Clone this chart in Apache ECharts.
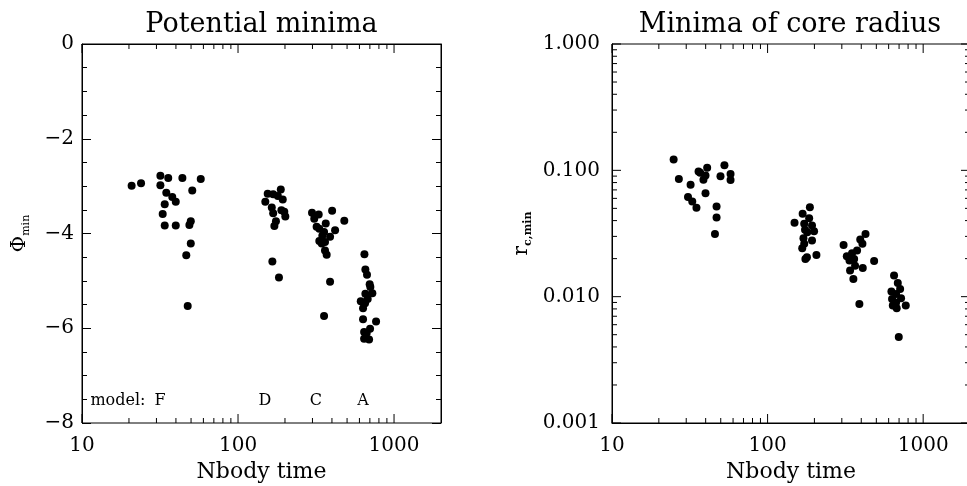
<!DOCTYPE html>
<html><head><meta charset="utf-8">
<script src="https://cdn.jsdelivr.net/npm/echarts@6/dist/echarts.min.js"></script>
<style>html,body{margin:0;padding:0;background:#fff}#c{width:967px;height:486px}</style>
</head><body><div id="c"></div>
<script>
// ---- data: left panel (potential minima) ----
const phiTime = [20.8,23.9,31.8,35.7,44.0,57.7,31.8,50.9,34.7,37.9,39.9,33.9,32.9,33.9,39.9,49.8,48.8,49.8,46.6,47.6,
  155,168,188,180,193.5,149.6,164.6,168,189.7,198,201,175,171,166,183,
  298,329,308,401,480,365,319,332,419,356,347,389,332,361,344,361,370,389,356,
  646,655,671,698,705,655,726,678,612,652,633,633,767,702,643,668,643,692];
const phiMin = [-2.99,-2.94,-2.78,-2.83,-2.83,-2.85,-2.98,-3.09,-3.14,-3.23,-3.33,-3.38,-3.59,-3.83,-3.83,-3.74,-3.82,-4.21,-4.46,-5.53,
  -3.16,-3.17,-3.07,-3.21,-3.28,-3.33,-3.45,-3.57,-3.51,-3.54,-3.64,-3.74,-3.84,-4.59,-4.93,
  -3.56,-3.60,-3.69,-3.52,-3.73,-3.79,-3.86,-3.90,-3.93,-3.97,-4.05,-4.07,-4.16,-4.18,-4.21,-4.36,-4.45,-5.02,-5.74,
  -4.44,-4.76,-4.87,-5.07,-5.13,-5.27,-5.26,-5.38,-5.43,-5.47,-5.58,-5.81,-5.86,-6.01,-6.08,-6.10,-6.22,-6.24];
// ---- data: right panel (core radius minima) ----
const rcTime = [24.9,26.9,32.0,36.0,36.9,40.9,39.9,38.7,52.8,49.8,57.8,57.8,39.9,30.8,32.8,34.9,47.0,47.0,45.9,
  187,168,149,185,172,193,174,199,180,170,193,172,167,179,175,206,
  426,394,407,308,376,349,323,360,336,484,365,409,339,356,389,
  650,687,711,625,670,721,631,670,638,773,676,697];
const rcMin = [0.122,0.0853,0.0769,0.0977,0.0959,0.105,0.0912,0.0844,0.1096,0.0896,0.0935,0.0838,0.066,0.0614,0.0567,0.0506,0.0518,0.0424,0.0314,
  0.0511,0.0453,0.0385,0.0418,0.0378,0.0366,0.0338,0.033,0.0324,0.029,0.0278,0.0262,0.0242,0.0205,0.0199,0.0214,
  0.0314,0.0283,0.0262,0.0257,0.0232,0.0221,0.0209,0.0199,0.0193,0.0192,0.0176,0.0169,0.0161,0.0138,0.00875,
  0.0147,0.0128,0.0115,0.0110,0.0105,0.0097,0.0096,0.0090,0.0085,0.0085,0.0081,0.0048];
// ---- model annotation ----
const modelNames = ['model:','F','D','C','A'];
const modelTime = [17,31.6,149,316,632];
const modelPhi = [-7.53,-7.53,-7.53,-7.53,-7.53];
// ---- ticks ----
const xMajorTicks = [10,100,1000];
const xMinorTicks = [20,30,40,50,60,70,80,90,200,300,400,500,600,700,800,900];
const xTickLabels = [10,100,1000];
const phiTickLabels = [-8,-6,-4,-2,0];
const rMajorTicks = [0.001,0.01,0.1,1];
const rMinorTicks = [0.002,0.003,0.004,0.005,0.006,0.007,0.008,0.009,0.02,0.03,0.04,0.05,0.06,0.07,0.08,0.09,0.2,0.3,0.4,0.5,0.6,0.7,0.8,0.9];

const X_MIN = 10, X_MAX = 2000, PHI_LO = -8, PHI_HI = 0, R_LO = 0.001, R_HI = 1;
const FONT = 'DejaVu Serif';
const MAJ = 9, MIN = 5;

function xTickSeries(xi, yi, yLo, yHi) {
  const data = xMajorTicks.map(v => [v, yLo, 1]).concat(xMinorTicks.map(v => [v, yLo, 0]));
  return {
    type: 'custom', xAxisIndex: xi, yAxisIndex: yi, silent: true, clip: false,
    encode: {x: 0, y: 1}, data,
    renderItem: (params, api) => {
      const v = api.value(0), len = api.value(2) ? MAJ : MIN;
      const b = api.coord([v, yLo]), t = api.coord([v, yHi]);
      return {type: 'group', children: [
        {type: 'line', shape: {x1: b[0], y1: b[1], x2: b[0], y2: b[1] - len}, style: {stroke: '#000', lineWidth: 1}},
        {type: 'line', shape: {x1: t[0], y1: t[1], x2: t[0], y2: t[1] + len}, style: {stroke: '#000', lineWidth: 1}}
      ]};
    }
  };
}
function rTickSeries(xi, yi) {
  const data = rMajorTicks.map(v => [X_MIN, v, 1]).concat(rMinorTicks.map(v => [X_MIN, v, 0]));
  return {
    type: 'custom', xAxisIndex: xi, yAxisIndex: yi, silent: true, clip: false,
    encode: {x: 0, y: 1}, data,
    renderItem: (params, api) => {
      const v = api.value(1), len = api.value(2) ? MAJ : MIN;
      const l = api.coord([X_MIN, v]), r = api.coord([X_MAX, v]);
      return {type: 'group', children: [
        {type: 'line', shape: {x1: l[0], y1: l[1], x2: l[0] + len, y2: l[1]}, style: {stroke: '#000', lineWidth: 1}},
        {type: 'line', shape: {x1: r[0], y1: r[1], x2: r[0] - len, y2: r[1]}, style: {stroke: '#000', lineWidth: 1}}
      ]};
    }
  };
}

const axisLine = {show: true, lineStyle: {color: '#000', width: 1}};
const xLabel = {
  show: true, color: '#000', fontFamily: FONT, fontSize: 20, margin: 13,
  formatter: v => xTickLabels.includes(Math.round(v)) ? String(Math.round(v)) : ''
};
function xAxis(gi) {
  return {
    type: 'log', logBase: 10, gridIndex: gi, min: X_MIN, max: X_MAX,
    axisLine, axisTick: {show: false}, splitLine: {show: false}, axisLabel: xLabel,
    name: 'Nbody time', nameLocation: 'middle', nameGap: 36,
    nameTextStyle: {color: '#000', fontFamily: FONT, fontSize: 22}
  };
}
function phiAxis(pos, showLabel) {
  return {
    type: 'value', gridIndex: 0, position: pos, min: PHI_LO, max: PHI_HI, interval: 2,
    axisLine, splitLine: {show: false},
    axisTick: {show: true, inside: true, length: MAJ, lineStyle: {color: '#000'}},
    minorTick: {show: true, splitNumber: 4, length: MIN, lineStyle: {color: '#000'}},
    minorSplitLine: {show: false},
    axisLabel: {show: showLabel, color: '#000', fontFamily: FONT, fontSize: 20, margin: 8,
      formatter: v => phiTickLabels.includes(v) ? (v < 0 ? '\u2212' + Math.abs(v) : String(v)) : ''},
    name: showLabel ? '{a|\u03A6}{b|min}' : '', nameLocation: 'middle', nameRotate: 90, nameGap: 50,
    nameTextStyle: {color: '#000', rich: {
      a: {fontFamily: FONT, fontSize: 20, color: '#000', lineHeight: 24, verticalAlign: 'middle'},
      b: {fontFamily: FONT, fontSize: 11, color: '#000', verticalAlign: 'bottom', lineHeight: 24}
    }}
  };
}

const option = {
  animation: false,
  backgroundColor: '#fff',
  grid: [
    {left: 82, top: 44, width: 359, height: 379, show: true, borderColor: '#000', borderWidth: 1, containLabel: false, outerBoundsMode: 'none'},
    {left: 612, top: 44, width: 358, height: 379, show: true, borderColor: '#000', borderWidth: 1, containLabel: false, outerBoundsMode: 'none'}
  ],
  xAxis: [xAxis(0), xAxis(1)],
  yAxis: [
    phiAxis('left', true),
    phiAxis('right', false),
    {
      type: 'log', logBase: 10, gridIndex: 1, min: R_LO, max: R_HI,
      axisLine, axisTick: {show: false}, splitLine: {show: false},
      axisLabel: {color: '#000', fontFamily: FONT, fontSize: 20, margin: 12, formatter: v => v.toFixed(3)},
      name: '{a|r}{b|c,min}', nameLocation: 'middle', nameRotate: 90, nameGap: 78,
      nameTextStyle: {color: '#000', rich: {
        a: {fontFamily: FONT, fontSize: 20, color: '#000', lineHeight: 24, verticalAlign: 'middle'},
        b: {fontFamily: FONT, fontSize: 11, fontWeight: 'bold', color: '#000', verticalAlign: 'bottom', lineHeight: 24}
      }}
    }
  ],
  graphic: [
    {type: 'text', x: 261.5, y: 25, style: {text: 'Potential minima', fill: '#000', fontFamily: FONT, fontSize: 27, align: 'center', verticalAlign: 'middle'}},
    {type: 'text', x: 790, y: 25, style: {text: 'Minima of core radius', fill: '#000', fontFamily: FONT, fontSize: 27, align: 'center', verticalAlign: 'middle'}}
  ],
  series: [
    {type: 'scatter', xAxisIndex: 0, yAxisIndex: 0, symbol: 'circle', symbolSize: 8,
      itemStyle: {color: '#000', opacity: 1}, data: phiTime.map((t, i) => [t, phiMin[i]])},
    {type: 'scatter', xAxisIndex: 1, yAxisIndex: 2, symbol: 'circle', symbolSize: 8,
      itemStyle: {color: '#000', opacity: 1}, data: rcTime.map((t, i) => [t, rcMin[i]])},
    {type: 'scatter', xAxisIndex: 0, yAxisIndex: 0, symbolSize: 0, silent: true,
      itemStyle: {opacity: 1},
      label: {show: true, position: 'inside', color: '#000', opacity: 1, fontFamily: FONT, fontSize: 16, formatter: p => p.name},
      data: modelNames.map((n, i) => ({name: n, value: [modelTime[i], modelPhi[i]]}))},
    xTickSeries(0, 0, PHI_LO, PHI_HI),
    xTickSeries(1, 2, R_LO, R_HI),
    rTickSeries(1, 2)
  ]
};
const chart = echarts.init(document.getElementById('c'), null, {renderer: 'canvas'});
chart.setOption(option);
</script></body></html>
